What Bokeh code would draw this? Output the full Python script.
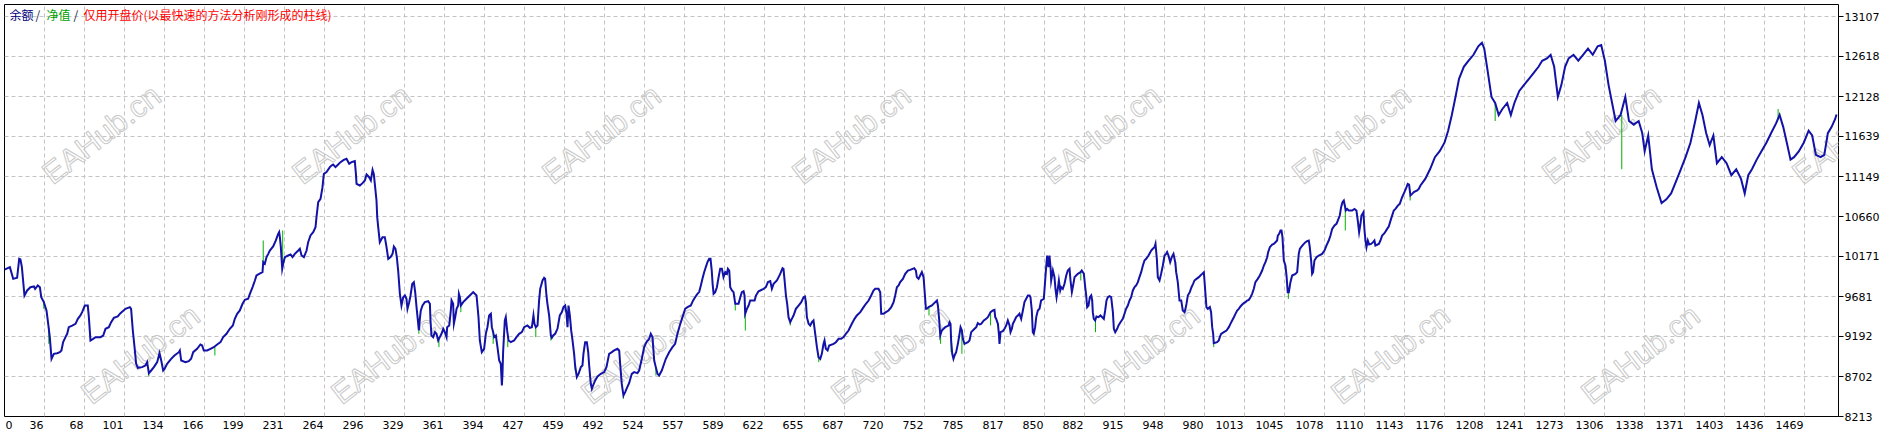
from bokeh.plotting import figure
from bokeh.models import Range1d, FixedTicker, CustomJSTickFormatter, Label
from bokeh.core.properties import value
from bokeh.embed import file_html
from bokeh.resources import INLINE

# ---------------- data ----------------
x_labels = ["0", "36", "68", "101", "134", "166", "199", "231", "264", "296", "329", "361", "394",
            "427", "459", "492", "524", "557", "589", "622", "655", "687", "720", "752", "785", "817",
            "850", "882", "915", "948", "980", "1013", "1045", "1078", "1110", "1143", "1176", "1208",
            "1241", "1273", "1306", "1338", "1371", "1403", "1436", "1469"]
y_labels = ["8213", "8702", "9192", "9681", "10171", "10660", "11149", "11639", "12128", "12618", "13107"]

# balance curve: (trade number, balance)
seg_a = [(0,10010),(4.4,10040),(7.1,9897),(10.3,9910),(12,10142),(13,10134),(14.2,10040),(16.3,9693),(18.5,9755),(21.2,9795),(24,9804),(25,9775),(27.2,9816),(28.9,9795),(30,9673),(32.1,9612),(34.3,9510),(35.7,9347),(37,9184),(38.4,8919),(40.3,8980),(43,8988),(45.2,9000),(46.5,9021),(47.9,9123),(49.8,9184),(51.2,9225),(52.5,9306),(55.3,9326),(58,9347),(59.9,9408),(62,9449),(63.4,9490),(65.6,9571),(68,9571),(68.9,9428),(70.2,9143),(72.4,9163),(74.3,9184),(78.4,9184),(80.6,9204),(82.5,9286),(85.2,9306),(87.1,9367),(89.3,9420),(92.5,9437),(94.7,9477),(98.8,9530),(102.4,9551),(103.4,9530),(104.8,9265),(106.2,9061),(107.5,8857),(108.9,8809),(112.4,8817),(115.1,8837),(116.5,8878),(117.9,8743),(119.8,8776),(122,8817),(124.7,8878),(126.6,8988),(128,8898),(129.6,8776),(130.7,8796),(132.8,8857),(136.1,8919),(138.8,8959),(142.4,9000),(143.2,9021),(144.3,8898),(147.8,8878),(150.5,8890),(152.4,8919),(154.1,9000),(157.3,9041),(160,9094),(161.4,9082),(162.8,9021),(165.5,9021),(168.2,9041),(170.9,9061),(173.7,9094),(176.4,9123),(178.6,9184),(181.3,9225),(184,9286),(186.5,9326),(188.1,9408),(190,9469),(192.2,9510)]
seg_b = [(194.4,9592),(196.3,9641),(199,9653),(200.4,9714),(202.6,9796),(204.5,9877),(205.8,9938),(208,9959),(210.7,9979),(211.3,10102),(212.6,10081),(214,10163),(215.4,10203),(216.7,10244),(219.4,10293),(221.6,10367),(223.5,10448),(224.3,10469),(224.9,10407),(225.7,10285),(226.8,10020),(227.6,10081),(229,10163),(231.7,10183),(233.6,10195),(235.2,10163),(237.1,10203),(239.9,10244),(241.2,10265),(242.6,10183),(244.5,10163),(246.7,10244),(248,10346),(249.9,10428),(252.1,10469),(254,10530),(254.8,10652),(256.2,10836),(258.1,10876),(259.7,11019),(260.8,11182),(263,11203),(265.7,11264),(267.1,11284),(268.4,11296),(270.3,11264),(272.5,11296),(274.4,11325),(277.1,11353),(279.3,11366),(281.5,11305),(283.4,11325),(286.1,11337),(287,11182),(287.5,11060),(290.2,11040),(292.4,11068),(294.3,11101),(295.7,11174),(297.8,11141),(299.2,11101),(300.6,11231),(301.6,11182),(302.7,11019),(303.8,10856),(304.4,10652),(305.2,10530),(306.5,10346),(308.7,10407),(310.6,10407),(312,10285),(313.4,10142),(315.3,10163),(316.9,10203),(318,10293),(319.3,10265),(320.4,10163),(321.5,9999),(322.9,9714),(324.2,9571),(325.6,9673),(327,9694),(328.3,9653),(329.1,9531),(330.5,9612),(331.6,9694),(333,9836),(334.3,9857),(335.4,9735),(336.5,9551),(337.6,9388),(338.4,9266),(339.2,9408),(340,9510),(341.4,9571),(343.3,9612),(346,9624),(347.4,9592),(347.9,9388),(348.7,9204),(350.1,9184),(351.5,9245),(352.8,9225),(354.2,9143),(355.5,9184),(356.9,9225),(358.3,9286),(359.6,9245),(361,9184),(361.5,9306),(363.2,9327),(364.5,9510),(365.1,9633),(366.4,9592),(367,9347),(368.1,9429),(369.2,9531),(370.5,9571),(371.1,9714),(371.9,9673),(372.7,9571),(374.6,9612),(377.3,9653),(380,9694),(382.8,9735),(385.5,9694)]
seg_c = [(387.1,9429),(388.2,9143),(389.8,9000),(391.7,9041),(393.1,9225),(394.4,9306),(395.8,9449),(397.2,9470),(398,9306),(399.1,9245),(399.9,9184),(401.3,9204),(402.6,9062),(404,8898),(405.3,8858),(406.2,8593),(406.7,8735),(407.2,9000),(408.6,9388),(409.4,9429),(410.5,9266),(411.6,9143),(413.5,9123),(416.2,9143),(418.1,9184),(420.3,9225),(422.5,9245),(424.4,9306),(427.1,9327),(429,9298),(430.7,9306),(432,9449),(432.8,9347),(433.9,9306),(435.3,9327),(436.6,9633),(437.5,9775),(439.4,9877),(440.7,9910),(441.5,9898),(442.6,9694),(443.4,9592),(444.8,9449),(446.2,9204),(447,9176),(448.1,9204),(449.7,9225),(451.6,9286),(453.5,9449),(455.2,9490),(456.5,9551),(457.9,9571),(459,9470),(459.8,9306),(460.6,9571),(461.7,9449),(462.8,9266),(463.9,9143),(465.2,8980),(466,8837),(467.4,8695),(468.8,8735),(470.7,8817),(472,8837),(472.8,8980),(474.2,9123),(475.6,9123),(476.7,9000),(477.5,8837),(478.8,8613),(479.7,8552),(480.7,8593),(482.4,8654),(484.3,8703),(487,8735),(489.7,8756),(491.6,8817),(493.8,8980),(496,9000),(497.9,9021),(500.6,9041),(502,9021),(502.8,8858),(504.1,8613),(505.5,8470),(506.9,8511),(508,8552),(510.1,8621),(512.3,8735),(514.2,8756),(516.9,8744),(518.3,8776),(520.5,8919),(522.4,9062),(524.3,9123),(526.5,9164),(527.8,9225),(529.2,9184),(530.6,8898),(531.9,8817),(533.3,8735),(534.6,8715),(536.8,8776),(538.7,8858),(540.1,8919),(542.8,9000),(545.5,9062),(547.7,9102),(549.6,9225),(551.5,9327),(553.7,9429),(555.9,9531),(557.8,9551),(560.5,9571),(562.4,9633),(564,9673),(565.9,9714),(567.3,9735),(568.7,9816),(570,9898),(571.4,9979),(572.7,10040),(574.1,10102),(575.5,10142),(576.6,10142),(577.6,9999)]
seg_d = [(578.3,9836),(579.1,9714),(580.4,9734),(581.8,9795),(583.2,9918),(584.5,10020),(585.9,10020),(587.2,9918),(588.6,9979),(590,9959),(590.8,10020),(591.9,9999),(592.7,9795),(594.1,9755),(595.4,9734),(596.8,9592),(599.5,9592),(600.9,9673),(602.2,9734),(603.6,9746),(604.4,9693),(604.9,9469),(606.3,9530),(607.7,9571),(609,9632),(612.6,9632),(613.7,9693),(615.8,9746),(617.2,9755),(619.9,9775),(621.8,9795),(623.5,9857),(625.4,9869),(626.7,9775),(628.1,9836),(630.8,9877),(632.2,9918),(633.5,9958),(635.4,10028),(636.2,10020),(637.1,9877),(638.2,9693),(639.2,9592),(640.3,9428),(641.7,9367),(643,9408),(644.4,9449),(646.3,9530),(648.5,9571),(650.7,9612),(652.6,9673),(653.7,9681),(654.5,9612),(655.3,9428),(656.7,9347),(658,9326),(659.4,9367),(660.7,9388),(662.1,9224),(663.5,9061),(664.8,8939),(666.2,8919),(667.5,8980),(668.9,9102),(669.7,9143),(670.8,9041),(672.2,9021),(673.5,9082),(677.1,9102),(679,9122),(681.2,9163),(683.3,9163),(685.2,9184),(687.1,9224),(689.3,9265),(692,9347),(694.2,9408),(696.1,9449),(698.9,9490),(701.6,9551),(703.5,9592),(705.7,9632),(707.8,9693),(709.7,9755),(711.1,9775),(713.8,9775),(715.2,9734),(716,9469),(717.9,9469),(719.8,9490),(722,9510),(724.2,9551),(726.1,9612),(727.4,9693),(728.8,9795),(730.2,9816),(731.5,9857),(733.7,9897),(735.6,9958),(737.8,9999),(739.7,10007),(741.6,10020),(743,10028),(744.3,9999),(745.1,9918),(746.5,9897),(747.8,9938),(749.2,9979),(750.6,9918),(751.4,9755),(752.5,9530),(753.3,9530),(754.7,9551),(757.4,9571),(760.1,9612),(761.5,9632),(762.3,9571),(763.4,9388),(764.2,9204),(765.5,9265),(766.9,9286),(768.3,9306),(771,9326)]
seg_e = [(771.8,9367),(772.6,9347),(773.1,9143),(774,8980),(775,8919),(775.9,8960),(777.2,9000),(778.6,9102),(780,9225),(780.8,9306),(781.9,9266),(782.7,9164),(784,9102),(786.8,9123),(788.1,9143),(789.5,9245),(792.2,9286),(793.6,9306),(794.9,9355),(796.3,9339),(797.6,9347),(799.8,9388),(801.7,9408),(803.1,9429),(805.3,9490),(807.2,9510),(808.5,9518),(809.1,9429),(809.9,9408),(811.3,9347),(812.1,9225),(812.6,9102),(813.4,9245),(815.3,9257),(816.7,9286),(818.1,9327),(819.4,9388),(820.8,9327),(821.6,9245),(822.7,9286),(823.5,9347),(824.9,9388),(826.2,9429),(827.6,9449),(828.9,9470),(830.3,9408),(831.7,9510),(833,9612),(834.4,9653),(835.8,9694),(837.1,9694),(837.9,9673),(839,9510),(839.8,9245),(840.6,9225),(841.7,9306),(842.6,9429),(843.9,9510),(845.3,9531),(846.6,9633),(848.8,9653),(849.9,9877),(850.7,10040),(851.5,10183),(852.6,10040),(853.4,10183),(854.3,10040),(854.8,9877),(856.2,9999),(857.5,9918),(858.3,9775),(859.2,9673),(860.2,9775),(861.1,9877),(862.2,9755),(863,9796),(864.3,9775),(865.7,9837),(867.1,9938),(868.4,9999),(869.8,10020),(870.6,9877),(871.7,9735),(872.5,9796),(873.9,9918),(875.2,9938),(876.6,9959),(878.8,9979),(879.8,9999),(881.5,9959),(882.6,9796),(883.4,9694),(884.2,9551),(885.3,9571),(886.4,9673),(887.5,9694),(888.3,9633),(888.8,9490),(889.6,9408),(890.7,9388),(891.8,9437),(893.5,9429),(895.1,9449),(897.8,9408),(898.9,9510),(900,9633),(901.1,9673),(902.4,9686),(903.8,9673),(905.2,9490),(906,9286),(907.1,9245),(908.7,9286),(909.8,9327),(911.4,9367),(913.3,9408),(914.7,9470),(916,9531),(917.4,9571),(918.8,9633),(920.1,9673),(921.5,9755),(922.9,9796),(924.2,9816),(925.6,9857),(926.9,9918),(928.3,9979),(929.7,10061),(931,10122),(932.4,10142),(934.3,10183),(936.5,10244),(937.8,10265),(939.2,10285),(940,10326),(941.1,10142),(941.9,9918),(943.3,9877),(944.6,9959),(946,10061),(947.4,10183),(948.7,10203),(949.5,10224),(950.6,10183),(952,10102),(953.3,10163),(954.7,10203),(956.1,10102),(956.9,9979),(958.2,9857),(959.6,9633),(961,9633),(962.3,9510),(963.7,9490)]
seg_f = [(964.5,9530),(965.3,9591),(966.4,9693),(968,9734),(969.4,9795),(970.7,9836),(971.8,9877),(973.5,9897),(975.4,9918),(976.7,9938),(978.1,9958),(979.5,9979),(980,9877),(980.8,9714),(981.6,9551),(982.7,9530),(984.4,9551),(985.4,9489),(986.3,9306),(987.1,9224),(987.6,9110),(990.3,9122),(991.7,9143),(992.5,9184),(993.6,9224),(995.8,9245),(998,9265),(999.9,9306),(1001.2,9347),(1002.6,9388),(1004,9428),(1005.3,9469),(1006.7,9510),(1008,9530),(1009.4,9559),(1010.8,9583),(1012.1,9600),(1013.5,9612),(1014.8,9632),(1016.2,9640),(1017.6,9673),(1018.9,9714),(1020.3,9775),(1021.6,9857),(1023.5,9897),(1025.2,9938),(1027.1,9999),(1028.5,10060),(1029.8,10101),(1031.2,10162),(1032,10224),(1033.4,10285),(1035.3,10317),(1036.6,10325),(1038,10346),(1039.3,10366),(1039.9,10427),(1041,10448),(1042.1,10489),(1042.9,10489),(1043.7,10407),(1044.8,10122),(1046.1,10060),(1047,9938),(1048,9734),(1048.9,9734),(1050.2,9857),(1051.6,9938),(1054.3,9958),(1055.7,9979),(1057,10203),(1057.9,10264),(1058.9,10285),(1060.6,10317),(1062.5,10346),(1063.8,10358),(1065.2,10366),(1066,10285),(1067.1,10122),(1067.9,9958),(1068.7,9979),(1069.8,10122),(1071.5,10162),(1073.4,10183),(1076.1,10203),(1078,10244),(1079.6,10305),(1081.5,10366),(1082.9,10427),(1084.3,10509),(1086.2,10550),(1087.8,10570),(1088.9,10611),(1090.5,10672),(1091.6,10774),(1092.7,10835),(1093.8,10856),(1094.6,10794),(1095.4,10733),(1096.5,10753),(1097.9,10733),(1100.6,10733),(1102.5,10753),(1104.1,10733),(1105.2,10611),(1106.3,10468),(1107.4,10570),(1108.2,10672),(1109,10692),(1109.8,10713),(1110.7,10489),(1111.5,10366),(1112.3,10285),(1113.4,10366),(1114.5,10317),(1116.1,10325),(1117.7,10346),(1118.8,10366),(1119.6,10305),(1122.4,10325),(1123.7,10366),(1125.1,10427),(1127,10456),(1129.2,10509),(1130.5,10537),(1132.4,10631),(1134.6,10733),(1136,10753),(1137.9,10794),(1139.5,10815),(1141.4,10896),(1143.3,10958),(1145,11019),(1146,11060),(1147.1,11051),(1147.7,10978),(1148.2,10917),(1149.6,10937),(1151,10958),(1153.7,10978),(1155,10998),(1156.4,11039)]
seg_g = [(1160.3,11120),(1164.2,11238),(1168.2,11386),(1172.1,11460),(1176,11563),(1179,11710),(1182,11902),(1185,12123),(1187.9,12344),(1191.8,12492),(1195.7,12566),(1199.7,12639),(1203.6,12743),(1206.6,12787),(1208.5,12713),(1211.5,12418),(1214.4,12123),(1217.4,12049),(1220.3,11902),(1223.3,11976),(1227.2,12049),(1230.2,11902),(1233.1,12049),(1237.1,12197),(1241,12271),(1245,12344),(1248.9,12418),(1252.8,12492),(1255.8,12566),(1259.7,12595),(1262.7,12639),(1265.6,12492),(1268.6,12123),(1271.5,12271),(1274.5,12492),(1277.4,12595),(1281.4,12639),(1285.3,12566),(1289.2,12639),(1293.2,12713),(1297.1,12639),(1301.1,12743),(1304,12757),(1307,12566),(1310,12271),(1312.9,12049),(1315.8,11828),(1319.8,11902),(1323.7,12123),(1326.7,11828),(1330.6,11784),(1334.6,11828),(1337.5,11681),(1339.5,11460),(1342.4,11651),(1345.4,11238),(1349.3,11017),(1353.3,10825),(1357.2,10870),(1361.1,10943),(1365.1,11091),(1369,11238),(1372.9,11386),(1376.9,11563),(1380.8,11828),(1383.8,12049),(1386.7,11902),(1389.7,11681),(1392.6,11533),(1395.6,11651),(1398.5,11312),(1402.5,11386),(1406.4,11312),(1410.3,11165),(1414.3,11238),(1418.2,11120),(1421.2,10943),(1424.1,11165),(1427.1,11238),(1431,11356),(1435,11460),(1438.9,11563),(1442.8,11681),(1446.8,11799),(1449.7,11902),(1452.7,11754),(1455.6,11563),(1458.6,11356),(1461.5,11386),(1465.5,11460),(1469.4,11563),(1473.4,11710),(1476.3,11651),(1479.3,11415),(1483.2,11386),(1486.2,11415),(1489.1,11680),(1492.1,11754),(1495,11850),(1496.2,11908)]

# equity excursions away from balance: trade, balance there, equity tip
equity_trade = [32.1, 36.2, 117.9, 171.8, 211.3, 227.2, 338.4, 354.8, 372.7, 399.1, 411.0, 433.9,
                446.2, 466.0, 505.5, 532.0, 596.8, 605.0, 641.7, 665.0, 755.0, 764.5, 773.1, 781.9,
                805.3, 879.0, 891.0, 956.5, 987.6, 1048.5, 1095.0, 1148.0, 1217.4, 1320.8, 1448.5]
equity_from = [9612, 9300, 8743, 9061, 10102, 10081, 9266, 9143, 9571, 9245, 9143, 9306,
               9204, 8837, 8470, 8817, 9592, 9469, 9367, 8939, 9551, 9204, 9143, 9266,
               9490, 9979, 9388, 10102, 9110, 9734, 10794, 10917, 12049, 11902, 11850]
equity_to = [9530, 9102, 8702, 8960, 10367, 10489, 9225, 9062, 9490, 9102, 9062, 9184,
             9143, 8776, 8430, 8715, 9510, 9265, 9326, 8878, 9449, 9102, 9000, 8980,
             9327, 9877, 9245, 9979, 9061, 9652, 10489, 10856, 11828, 11238, 11975]

balance_points = seg_a + seg_b + seg_c + seg_d + seg_e + seg_f + seg_g
trade_no = [t for t, _ in balance_points]
balance = [v for _, v in balance_points]

# ---------------- layout ----------------
W, H = 1890, 436
FL, FR, FT, FB = 4, 1838, 4, 416          # frame edges (px)
X_END = 1497.8
Y_START, Y_END = 8213, 13254

def px_x(px):
    return (px - FL) / (FR - FL) * X_END

def px_y(py):
    return Y_START + (FB - py) / (FB - FT) * (Y_END - Y_START)

p = figure(width=W, height=H, output_backend="svg", toolbar_location=None, tools="",
           x_range=Range1d(0, X_END), y_range=Range1d(Y_START, Y_END),
           y_axis_location="right",
           min_border_left=FL, min_border_top=FT, min_border_right=W - FR, min_border_bottom=H - FB)
p.background_fill_color = "white"
p.border_fill_color = "white"
p.outline_line_color = "black"
p.outline_line_width = 1

grid_px = [44 + 40 * k for k in range(len(x_labels) - 1)]
grid_ticks = [px_x(g) for g in grid_px]
label_centers = [px_x(FL + 1 + 3.5 * len(x_labels[0]))] + \
    [px_x(g - 1 - 3.5 * len(s)) for g, s in zip(grid_px, x_labels[1:])]
y_ticks = [int(s) for s in y_labels]

p.xgrid.ticker = FixedTicker(ticks=grid_ticks)
p.ygrid.ticker = FixedTicker(ticks=y_ticks)
for g in (p.xgrid, p.ygrid):
    g.grid_line_color = "#c4c4c4"
    g.grid_line_dash = "4 3"
    g.grid_line_width = 1

fmt_code = """
let best = 0, bd = Infinity;
for (let i = 0; i < pos.length; i++) { const d = Math.abs(pos[i] - tick); if (d < bd) { bd = d; best = i; } }
return labs[best];
"""
xa = p.xaxis[0]
xa.ticker = FixedTicker(ticks=label_centers)
xa.formatter = CustomJSTickFormatter(args=dict(pos=label_centers, labs=x_labels), code=fmt_code)
xa.major_tick_out = 0
xa.major_tick_in = 0
xa.minor_tick_out = 0
xa.minor_tick_in = 0
xa.major_tick_line_color = None
xa.axis_line_color = None
xa.major_label_standoff = 4
xa.major_label_text_font = "DejaVu Sans"
xa.major_label_text_font_size = "11px"
xa.major_label_text_color = "black"

ya = p.yaxis[0]
ya.ticker = FixedTicker(ticks=y_ticks)
ya.formatter = CustomJSTickFormatter(args=dict(pos=y_ticks, labs=y_labels), code=fmt_code)
ya.major_tick_out = 5
ya.major_tick_in = 0
ya.minor_tick_out = 0
ya.minor_tick_in = 0
ya.major_tick_line_color = "black"
ya.axis_line_color = None
ya.major_label_standoff = 1
ya.major_label_text_font = "DejaVu Sans"
ya.major_label_text_font_size = "11px"
ya.major_label_text_color = "black"

# ---------------- watermark (drawn over the whole canvas, like the original) ----------------
wm_px = [(101 + 250 * k, 134) for k in range(8)] + [(140 + 250 * k, 354) for k in range(7)]
for a, b in wm_px:
    kw = dict(x=px_x(a), y=px_y(b), text="EAHub.cn", angle=0.66,
              text_align="center", text_baseline="middle",
              text_font="Liberation Sans", text_font_size="31px", level="underlay")
    try:
        lab = Label(text_color=(255, 255, 255, 0.0), text_outline_color="#c8c8c8", **kw)
    except Exception:
        lab = Label(text_color="#e4e4e4", **kw)
    p.add_layout(lab)

# ---------------- series ----------------
p.segment(x0=equity_trade, y0=equity_from, x1=equity_trade, y1=equity_to,
          line_color="#00b000", line_width=1)
p.line(trade_no, balance, line_color="#1212a6", line_width=2, line_join="miter")

# ---------------- caption ----------------
cap_y = px_y(14)
caption = [("余额", 9, "#000080"), ("/", 35, "#202040"), ("净值", 46, "#00a000"),
           ("/", 73, "#202040"), ("仅用开盘价(以最快速的方法分析刚形成的柱线)", 83, "#ff0000")]
for txt, xpx, col in caption:
    p.text(x=[px_x(xpx)], y=[cap_y], text=[txt], text_color=col,
           text_font=value("Noto Sans CJK SC"), text_font_size="12px",
           text_align="left", text_baseline="middle")

open("out.html", "w").write(file_html(p, INLINE))
